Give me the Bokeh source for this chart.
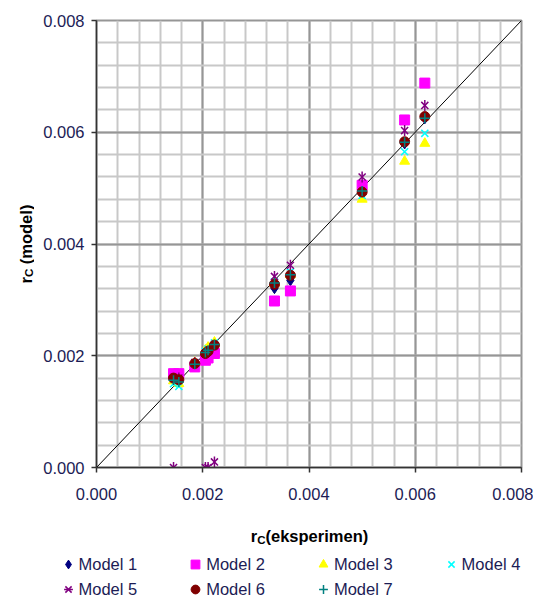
import math
from bokeh.plotting import figure
from bokeh.layouts import row, column
from bokeh.models import (Range1d, SingleIntervalTicker, NumeralTickFormatter, Label,
                          Legend, LegendItem)
from bokeh.embed import file_html
from bokeh.resources import INLINE

# ---- data ----
x_exp = [0.00145, 0.00155, 0.00185, 0.00205, 0.00210, 0.00222, 0.00335, 0.00365, 0.00500, 0.00580, 0.00618]
model1 = [0.00162, 0.00158, 0.00186, 0.00203, 0.00208, 0.00218, 0.00321, 0.00335, 0.00492, 0.00580, 0.00625]
model2 = [0.00168, 0.00168, 0.00180, 0.00192, 0.00196, 0.00204, 0.00298, 0.00316, 0.00505, 0.00622, 0.00688]
model3 = [0.00155, 0.00150, 0.00188, 0.00210, 0.00215, 0.00224, 0.00330, 0.00345, 0.00480, 0.00548, 0.00580]
model4 = [0.00150, 0.00145, 0.00187, 0.00208, 0.00212, 0.00223, 0.00332, 0.00350, 0.00487, 0.00565, 0.00598]
model5 = [0.00000, 0.00160, 0.00188, 0.00000, 0.00000, 0.00010, 0.00342, 0.00362, 0.00520, 0.00603, 0.00648]
model6 = [0.00160, 0.00157, 0.00186, 0.00204, 0.00208, 0.00219, 0.00328, 0.00344, 0.00493, 0.00583, 0.00628]
model7 = [0.00156, 0.00153, 0.00185, 0.00206, 0.00210, 0.00220, 0.00330, 0.00345, 0.00495, 0.00582, 0.00625]
series_names = ["Model 1", "Model 2", "Model 3", "Model 4", "Model 5", "Model 6", "Model 7"]
axis_min, axis_max, major_step = 0.0, 0.008, 0.002
diag = [axis_min, axis_max]

FONT = "Liberation Sans"
TXT = "#1c1c55"
FS = "16.5px"

# marker styles: (marker, size, fill, line, line_width, angle)
styles = [
    [("diamond", 11, "#000080", "#000080", 1, 0.0)],
    [("square", 10, "#ff00ff", "#ff00ff", 1, 0.0)],
    [("triangle", 10, "#ffff00", "#ffff00", 1, 0.0)],
    [("x", 10, None, "#00ffff", 1.5, 0.0)],
    [("x", 10, None, "#800080", 1.5, 0.0), ("dash", 11, None, "#800080", 1.5, math.pi / 2)],
    [("circle", 10, "#800000", "#800000", 1, 0.0)],
    [("cross", 10, None, "#008080", 1.5, 0.0)],
]
models = [model1, model2, model3, model4, model5, model6, model7]

def nofig(w, h, x_range, y_range, top=0, bottom=0):
    f = figure(width=w, height=h, x_range=x_range, y_range=y_range,
               output_backend="svg", toolbar_location=None, x_axis_type=None, y_axis_type=None,
               min_border_left=0, min_border_right=0, min_border_top=top, min_border_bottom=bottom)
    f.outline_line_color = None
    f.grid.visible = False
    return f

def lab(f, text, x, y, size=FS, angle=0.0):
    f.add_layout(Label(x=x, y=y, text=text, angle=angle,
                       text_font=FONT, text_font_size=size, text_font_style="bold",
                       text_color="black", text_align="left", text_baseline="alphabetic"))

# ---------------- main plot (page x 34..533, y 0..505) ----------------
p = figure(width=499, height=505, output_backend="svg", toolbar_location=None,
           x_range=Range1d(axis_min, axis_max), y_range=Range1d(axis_min, axis_max),
           min_border_left=62, min_border_right=12, min_border_top=20, min_border_bottom=38)
p.outline_line_color = "#969696"
p.outline_line_width = 2

for ax in (p.xaxis, p.yaxis):
    ax.ticker = SingleIntervalTicker(interval=major_step, num_minor_ticks=5)
    ax.formatter = NumeralTickFormatter(format="0.000")
    ax.axis_line_color = "#333333"
    ax.axis_line_width = 1.5
    ax.major_tick_line_color = "#333333"
    ax.major_tick_line_width = 1.5
    ax.major_tick_in = 0
    ax.major_tick_out = 5
    ax.minor_tick_line_color = None
    ax.major_label_text_font = FONT
    ax.major_label_text_font_size = FS
    ax.major_label_text_color = TXT
p.xaxis.major_label_standoff = 15
p.yaxis.major_label_standoff = 7

p.grid.grid_line_color = "#969696"
p.grid.grid_line_width = 2
p.grid.minor_grid_line_color = "#c8c8c8"
p.grid.minor_grid_line_width = 2

p.line(diag, diag, line_color="black", line_width=1)

for ys, st in zip(models, styles):
    for (mk, sz, fc, lc, lw, ang) in st:
        p.scatter(x_exp, ys, marker=mk, size=sz, fill_color=fc, line_color=lc,
                  line_width=lw, angle=ang)

# ---------------- y title (page x 0..34; data y == page y) ----------------
yt = nofig(34, 505, Range1d(0, 34), Range1d(467, 20), top=20, bottom=38)
lab(yt, "r", 25, 283, angle=math.pi / 2)
lab(yt, "C", 28.5, 276.6, size="11.5px", angle=math.pi / 2)
lab(yt, "(model)", 25, 263.7, angle=math.pi / 2)

# ---------------- bottom: x title + legend (page x 0..533, y 505..600) ----------------
bt = nofig(533, 95, Range1d(0, 533), Range1d(95, 0))
lab(bt, "r", 250.3, 535 - 505)
lab(bt, "C", 256.7, 539 - 505, size="11.5px")
lab(bt, "(eksperimen)", 265, 535 - 505)

nan = float("nan")
dummies = []
for st in styles:
    rs = []
    for (mk, sz, fc, lc, lw, ang) in st:
        rs.append(bt.scatter(x=[nan], y=[nan], marker=mk, size=sz, fill_color=fc, line_color=lc,
                             line_width=lw, angle=ang))
    dummies.append(rs)

def make_legend(idx, loc):
    return Legend(items=[LegendItem(label=series_names[i], renderers=dummies[i]) for i in idx],
                  orientation="horizontal", location=loc, spacing=47, padding=0, margin=0,
                  border_line_color=None, background_fill_alpha=0,
                  glyph_width=22, glyph_height=22, label_standoff=-2, label_height=22,
                  label_text_font=FONT, label_text_font_size=FS, label_text_color=TXT)

bt.add_layout(make_legend([0, 1, 2, 3], (56.5, 25)))
bt.add_layout(make_legend([4, 5, 6], (56.5, 0)))

layout = column(row(yt, p), bt)
open("out.html", "w").write(file_html(layout, INLINE))
